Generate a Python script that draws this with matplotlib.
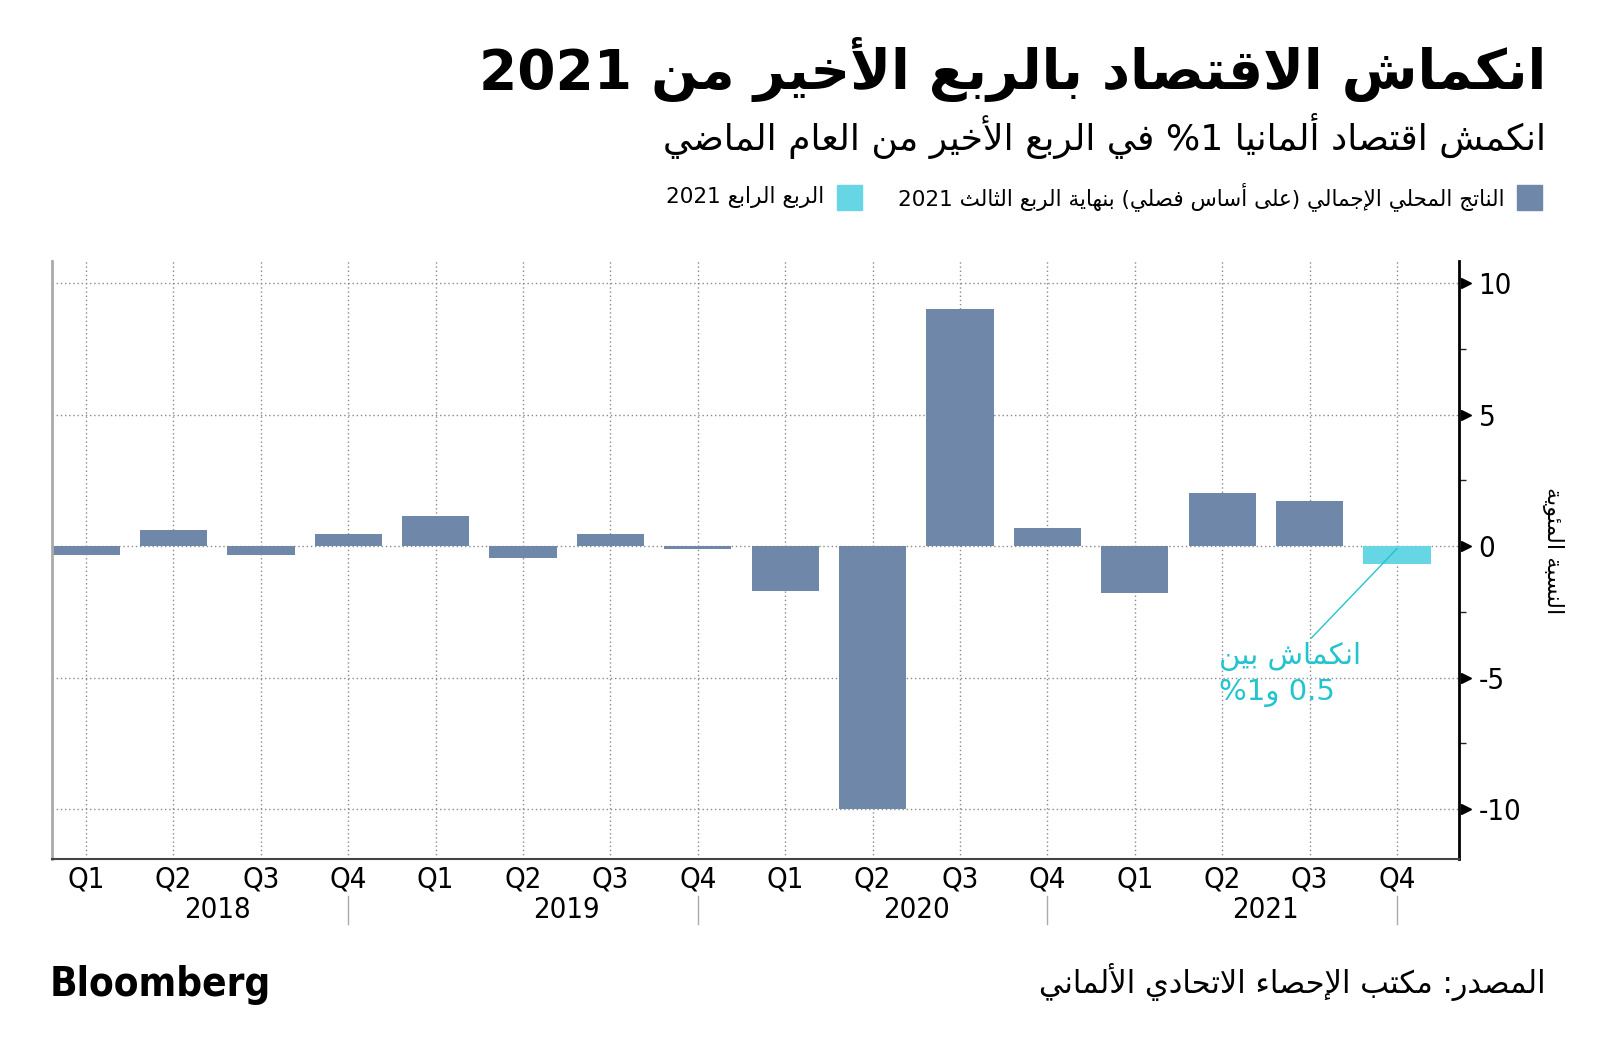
import re
import matplotlib
matplotlib.use("Agg")
import matplotlib.pyplot as plt
from matplotlib.patches import Rectangle
from matplotlib.lines import Line2D

plt.rcParams['axes.unicode_minus'] = False

# data
years = ['2018', '2019', '2020', '2021']
quarters = ['Q1', 'Q2', 'Q3', 'Q4'] * 4
gdp_to_q3 = [-0.35, 0.6, -0.35, 0.45, 1.15, -0.45, 0.45, -0.1,
             -1.7, -10.0, 9.0, 0.7, -1.8, 2.0, 1.7]
gdp_q4_2021 = [-0.7]

title = 'انكماش الاقتصاد بالربع الأخير من 2021'
subtitle = 'انكمش اقتصاد ألمانيا 1% في الربع الأخير من العام الماضي'
legend_labels = ['الناتج المحلي الإجمالي (على أساس فصلي) بنهاية الربع الثالث 2021',
                 'الربع الرابع 2021']
ylabel = 'النسبة المئوية'
note = ['انكماش بين', '0.5 و1%']
source = 'المصدر: مكتب الإحصاء الاتحادي الألماني'

BAR = '#6f88aa'
CYAN = '#66d5e4'
NOTE = '#22c4cf'

# --- minimal arabic shaping + rtl ordering (no arabic_reshaper available) ---
FORMS = {  # letter: (first presentation code point, number of forms)
    'ء': (0xFE80, 1), 'آ': (0xFE81, 2), 'أ': (0xFE83, 2), 'ؤ': (0xFE85, 2),
    'إ': (0xFE87, 2), 'ئ': (0xFE89, 4), 'ا': (0xFE8D, 2), 'ب': (0xFE8F, 4),
    'ة': (0xFE93, 2), 'ت': (0xFE95, 4), 'ث': (0xFE99, 4), 'ج': (0xFE9D, 4),
    'ح': (0xFEA1, 4), 'خ': (0xFEA5, 4), 'د': (0xFEA9, 2), 'ذ': (0xFEAB, 2),
    'ر': (0xFEAD, 2), 'ز': (0xFEAF, 2), 'س': (0xFEB1, 4), 'ش': (0xFEB5, 4),
    'ص': (0xFEB9, 4), 'ض': (0xFEBD, 4), 'ط': (0xFEC1, 4), 'ظ': (0xFEC5, 4),
    'ع': (0xFEC9, 4), 'غ': (0xFECD, 4), 'ف': (0xFED1, 4), 'ق': (0xFED5, 4),
    'ك': (0xFED9, 4), 'ل': (0xFEDD, 4), 'م': (0xFEE1, 4), 'ن': (0xFEE5, 4),
    'ه': (0xFEE9, 4), 'و': (0xFEED, 2), 'ى': (0xFEEF, 2), 'ي': (0xFEF1, 4),
}
LAMALEF = {'آ': 0xFEF5, 'أ': 0xFEF7, 'إ': 0xFEF9, 'ا': 0xFEFB}


def joins(c):
    return c in FORMS and FORMS[c][1] > 1


def shape(s):
    out = []
    i = 0
    while i < len(s):
        c = s[i]
        if c not in FORMS:
            out.append(c)
            i += 1
            continue
        prev = s[i - 1] if i > 0 else ''
        join_prev = prev in FORMS and FORMS[prev][1] == 4
        if c == 'ل' and i + 1 < len(s) and s[i + 1] in LAMALEF:
            out.append(chr(LAMALEF[s[i + 1]] + (1 if join_prev else 0)))
            i += 2
            continue
        nxt = s[i + 1] if i + 1 < len(s) else ''
        base, n = FORMS[c]
        join_prev = join_prev and n > 1
        join_next = n == 4 and joins(nxt)
        if join_prev and join_next:
            f = 3
        elif join_prev:
            f = 1
        elif join_next:
            f = 2
        else:
            f = 0
        out.append(chr(base + f))
        i += 1
    return ''.join(out)


MIRROR = {'(': ')', ')': '('}


def ar(s):
    s = shape(s)
    parts = re.split(r'([0-9A-Za-z.]+)', s)
    vis = []
    for p in reversed(parts):
        if re.fullmatch(r'[0-9A-Za-z.]+', p):
            vis.append(p)
        else:
            vis.append(''.join(MIRROR.get(ch, ch) for ch in reversed(p)))
    return ''.join(vis)


AR_FONT = ['DejaVu Sans']
NUM = dict(family='DejaVu Sans', fontstretch='condensed')

fig = plt.figure(figsize=(16, 10.64), dpi=100)
ax = fig.add_axes([0.0325, 0.1927, 0.9119 - 0.0325, 0.7547 - 0.1927])

x = list(range(len(quarters)))
ax.bar(x[:len(gdp_to_q3)], gdp_to_q3, width=0.77, color=BAR, zorder=2)
ax.bar(x[len(gdp_to_q3):], gdp_q4_2021, width=0.77, color=CYAN, zorder=2)

ax.set_xlim(-0.39, 15.71)
ax.set_ylim(-11.9, 10.84)

ax.set_xticks(x)
ax.set_xticklabels(quarters, fontsize=21, **NUM)
ax.tick_params(axis='x', length=0, pad=5)

ax.yaxis.tick_right()
ax.set_yticks([-10, -5, 0, 5, 10])
ax.set_yticklabels(['-10', '-5', '0', '5', '10'], fontsize=21, **NUM)
ax.set_yticks([-7.5, -2.5, 2.5, 7.5], minor=True)
ax.tick_params(axis='y', which='major', length=0, pad=14)
ax.tick_params(axis='y', which='minor', length=5, width=1, color='#222222')
for v in [-10, -5, 0, 5, 10]:
    ax.plot([1.005], [v], marker='>', markersize=7, color='black',
            transform=ax.get_yaxis_transform(), clip_on=False, zorder=5)

ax.grid(True, which='major', color='#8a8a8a', linestyle=(0, (1, 2)), linewidth=1, zorder=0)

ax.spines['top'].set_visible(False)
ax.spines['left'].set_color('#aaaaaa')
ax.spines['left'].set_linewidth(2)
ax.spines['bottom'].set_color('#444444')
ax.spines['bottom'].set_linewidth(1.5)
ax.spines['right'].set_color('black')
ax.spines['right'].set_linewidth(2)

# years under the quarter labels, separators at each Q4
trans = ax.get_xaxis_transform()
for k, yr in enumerate(years):
    ax.text(4 * k + 1.5, -0.085, yr, transform=trans, ha='center', va='center',
            fontsize=21, **NUM)
    ax.add_line(Line2D([4 * k + 3] * 2, [-0.062, -0.108], transform=trans,
                       color='#aaaaaa', linewidth=1, clip_on=False))

# annotation for the Q4 estimate
ax.plot([15.0, 14.02], [-0.1, -3.5], color=NOTE, linewidth=1, zorder=3)
ax.text(12.96, -4.2, ar(note[0]), color=NOTE, ha='left', va='center',
        family=AR_FONT, fontsize=21, zorder=4)
ax.text(12.96, -5.6, ar(note[1]), color=NOTE, ha='left', va='center',
        family=AR_FONT, fontsize=21, zorder=4)

# y label on the far right
fig.text(1553 / 1600, 1 - 551 / 1064, ar(ylabel), rotation=270, ha='center', va='center',
         family=AR_FONT, fontsize=16)

# titles
fig.text(1546 / 1600, 1 - 69 / 1064, ar(title), ha='right', va='center',
         family=AR_FONT, fontsize=39.5, fontweight='bold')
fig.text(1546 / 1600, 1 - 136 / 1064, ar(subtitle), ha='right', va='center',
         family=AR_FONT, fontsize=26)

# legend drawn by hand (right to left)
for sq_x, txt_x, col, lab in [(1517, 1505, BAR, legend_labels[0]),
                               (837, 824, CYAN, legend_labels[1])]:
    fig.patches.append(Rectangle((sq_x / 1600, 1 - 210 / 1064), 25 / 1600, 25 / 1064,
                                 transform=fig.transFigure, color=col))
    fig.text(txt_x / 1600, 1 - 197 / 1064, ar(lab), ha='right', va='center',
             family=AR_FONT, fontsize=15.5)

# footer
fig.text(50 / 1600, 1 - 985 / 1064, 'Bloomberg', ha='left', va='center',
         family='DejaVu Sans', fontstretch='condensed', fontsize=29, fontweight='bold')
fig.text(1546 / 1600, 1 - 982 / 1064, ar(source), ha='right', va='center',
         family=AR_FONT, fontsize=22)

fig.savefig('out.png', dpi=100, facecolor='white')
